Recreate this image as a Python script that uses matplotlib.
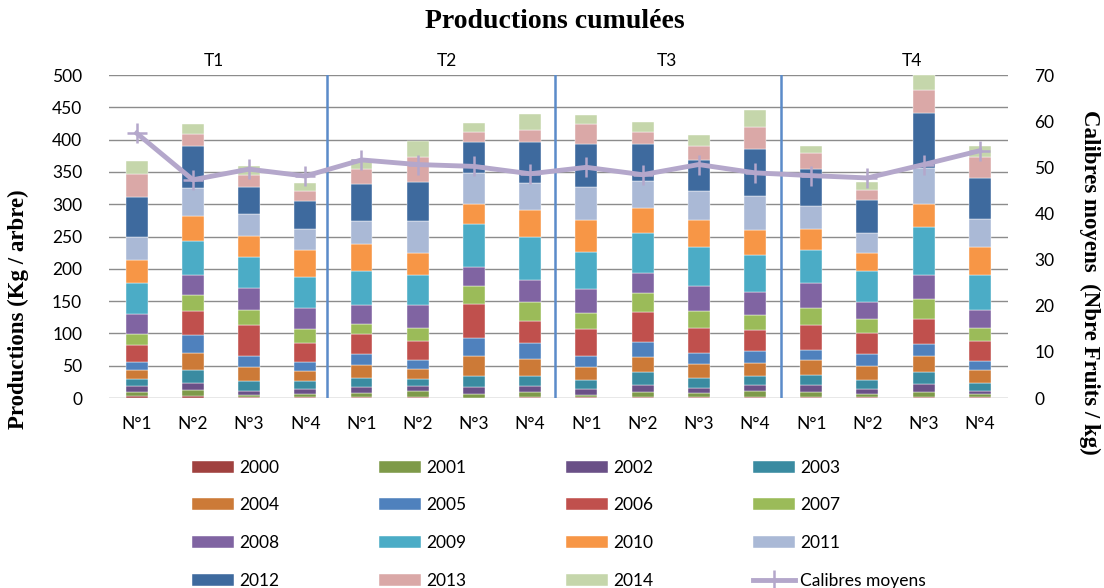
import matplotlib
matplotlib.use("Agg")
import matplotlib.pyplot as plt
import numpy as np

categories = ["N°1", "N°2", "N°3", "N°4"] * 4
groups = ["T1", "T2", "T3", "T4"]
years = [str(y) for y in range(2000, 2015)]

y2000 = [2.6, 2.6, 1.5, 2.0, 2.0, 2.0, 0.5, 1.0, 1.0, 1.5, 1.5, 1.5, 2.0, 1.0, 1.0, 1.0]
y2001 = [6.7, 9.3, 2.6, 3.7, 5.2, 8.3, 5.2, 7.8, 3.1, 7.3, 5.7, 8.8, 6.8, 5.2, 7.8, 4.7]
y2002 = [9.3, 10.8, 6.2, 7.7, 9.3, 7.7, 10.8, 9.2, 9.3, 10.8, 7.7, 9.3, 10.8, 7.2, 12.3, 4.6]
y2003 = [10.3, 20.1, 15.5, 12.4, 13.9, 10.9, 18.0, 16.5, 13.9, 21.1, 15.5, 14.9, 15.5, 13.9, 18.6, 12.4]
y2004 = [14.9, 27.3, 21.6, 15.4, 21.1, 16.5, 31.0, 26.3, 20.1, 23.2, 21.7, 20.1, 23.1, 21.7, 24.7, 20.1]
y2005 = [11.4, 27.8, 18.1, 14.0, 17.1, 13.9, 27.8, 24.3, 18.1, 22.7, 18.0, 18.6, 16.5, 19.6, 19.6, 13.9]
y2006 = [27.3, 36.1, 46.9, 30.4, 30.4, 28.8, 51.5, 33.5, 41.2, 45.9, 38.1, 32.0, 38.2, 31.9, 38.2, 31.4]
y2007 = [16.0, 24.8, 23.7, 21.1, 14.9, 20.1, 27.9, 29.3, 24.2, 29.4, 25.8, 22.6, 26.3, 21.7, 30.4, 20.1]
y2008 = [30.9, 30.9, 33.5, 32.5, 29.4, 35.1, 30.4, 34.1, 37.1, 32.4, 38.7, 35.6, 38.1, 26.3, 37.1, 27.9]
y2009 = [47.9, 53.1, 49.0, 48.9, 52.6, 46.4, 65.9, 67.0, 58.3, 60.9, 60.8, 58.2, 52.1, 47.4, 74.7, 53.6]
y2010 = [35.6, 38.6, 31.9, 40.3, 42.8, 35.0, 31.5, 42.8, 50.0, 38.6, 42.8, 38.2, 31.9, 28.8, 35.6, 43.8]
y2011 = [36.1, 44.4, 34.0, 32.9, 36.0, 50.0, 48.0, 41.2, 51.0, 42.8, 44.8, 53.6, 36.6, 30.5, 56.2, 44.3]
y2012 = [62.9, 64.4, 42.8, 43.3, 57.3, 60.3, 47.4, 62.9, 66.0, 56.7, 47.5, 72.2, 57.3, 51.0, 84.5, 63.4]
y2013 = [35.5, 18.6, 18.1, 16.5, 23.2, 38.7, 16.5, 18.5, 30.4, 18.0, 21.1, 33.5, 23.7, 16.5, 36.6, 32.0]
y2014 = [20.1, 14.9, 13.9, 12.4, 14.4, 24.8, 12.9, 24.8, 13.9, 15.5, 17.0, 27.3, 11.3, 12.4, 22.7, 17.0]

calibres = [57.4, 47.3, 49.6, 48.1, 51.6, 50.6, 50.2, 48.6, 50.0, 48.4, 50.6, 48.8, 48.2, 47.7, 50.6, 53.6]

series = [y2000, y2001, y2002, y2003, y2004, y2005, y2006, y2007,
          y2008, y2009, y2010, y2011, y2012, y2013, y2014]
colors = ["#A0413F", "#7E9A49", "#6A5087", "#3A8BA1", "#CC7A37", "#4F81BD",
          "#C0504D", "#9BBB59", "#8064A2", "#4BACC6", "#F79646", "#AAB9D6",
          "#3E6A9E", "#DAA8A7", "#C5D6AB"]
line_color = "#B4A7CB"

sans = ["Lato", "DejaVu Sans"]
serif = ["Liberation Serif", "DejaVu Serif"]

fig = plt.figure(figsize=(11.04, 5.88), dpi=100)
ax = fig.add_axes([0.0983, 0.3231, 0.8147, 0.5493])

x = np.arange(len(categories))
bottom = np.zeros(len(categories))
handles = []
for vals, col, lab in zip(series, colors, years):
    b = ax.bar(x, vals, 0.39, bottom=bottom, color=col, label=lab, zorder=3,
               edgecolor="white", linewidth=0.3)
    handles.append(b)
    bottom += np.array(vals)

ax.set_xlim(-0.5, len(categories) - 0.5)
ax.set_ylim(0, 500)
ax.set_yticks(np.arange(0, 501, 50))
ax.set_xticks(x)
ax.set_xticklabels(categories, family=sans, fontsize=12.5)
ax.tick_params(axis="y", length=0, pad=19, labelsize=12.5)
ax.tick_params(axis="x", length=0, pad=13)
for t in ax.get_yticklabels():
    t.set_family(sans)
ax.yaxis.grid(True, color="#8C8C8C", linewidth=1.0, zorder=0)
for s in ax.spines.values():
    s.set_visible(False)

for sx in [3.38, 7.45, 11.46]:
    ax.axvline(sx, color="#5B8BC9", linewidth=1.8, zorder=4)

for gx, g in zip([1.38, 5.52, 9.44, 13.8], groups):
    ax.text(gx, 1.02, g, transform=ax.get_xaxis_transform(), ha="center",
            va="bottom", fontsize=12.5, family=sans)

ax2 = ax.twinx()
ax2.set_ylim(0, 70)
ax2.set_yticks(np.arange(0, 71, 10))
ax2.tick_params(axis="y", length=0, pad=19, labelsize=12.5)
for t in ax2.get_yticklabels():
    t.set_family(sans)
for s in ax2.spines.values():
    s.set_visible(False)
ln, = ax2.plot(x, calibres, color=line_color, linewidth=3.5, marker="+",
               markersize=15, markeredgewidth=1.8, markeredgecolor=line_color,
               label="Calibres moyens", zorder=5)

fig.text(0.503, 0.963, "Productions cumulées", ha="center", va="center",
         fontsize=20, fontweight="bold", family=serif)
fig.text(0.017, 0.475, "Productions (Kg / arbre)", rotation=90, ha="center",
         va="center", fontsize=16.5, fontweight="bold", family=serif)
fig.text(0.987, 0.52, "Calibres moyens  (Nbre Fruits / kg)", rotation=270,
         ha="center", va="center", fontsize=16.5, fontweight="bold", family=serif)

all_h = handles + [ln]
all_l = years + ["Calibres moyens"]
order = [i for c in range(4) for i in range(c, 16, 4)]
leg = fig.legend([all_h[i] for i in order], [all_l[i] for i in order],
                 ncol=4, loc="upper left", bbox_to_anchor=(0.168, 0.23),
                 frameon=False, prop={"family": sans, "size": 12.5},
                 handlelength=2.4, handleheight=0.7, handletextpad=0.3,
                 columnspacing=5.75, labelspacing=1.25, borderaxespad=0)

fig.savefig("out.png", dpi=100)
